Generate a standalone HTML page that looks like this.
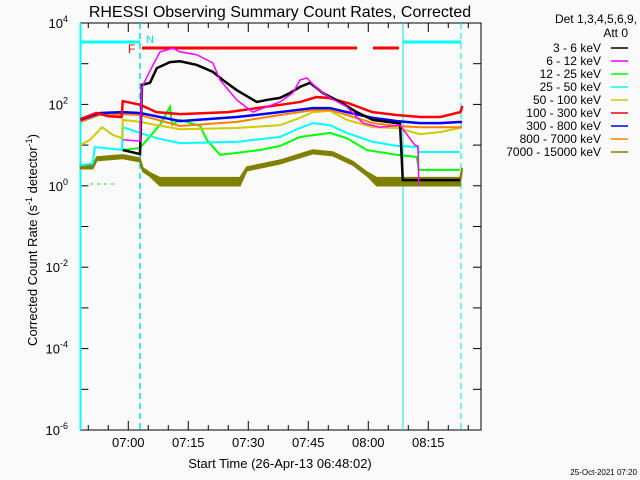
<!DOCTYPE html>
<html><head><meta charset="utf-8">
<style>
body{margin:0;background:#fafafa;}
svg{display:block;font-family:"Liberation Sans","DejaVu Sans",sans-serif;}
</style></head>
<body>
<svg id="chart" width="640" height="480" viewBox="0 0 640 480">
<rect width="640" height="480" fill="#fafafa"/>
<text x="280" y="17" font-size="16" text-anchor="middle" fill="#000">RHESSI Observing Summary Count Rates, Corrected</text>
<text x="280" y="468" font-size="13" text-anchor="middle" fill="#000">Start Time (26-Apr-13 06:48:02)</text>
<text transform="translate(37,240) rotate(-90)" font-size="13" text-anchor="middle" fill="#000">Corrected Count Rate (s<tspan baseline-shift="super" font-size="9">-1</tspan> detector<tspan baseline-shift="super" font-size="9">-1</tspan>)</text>
<text x="637" y="475" font-size="8" text-anchor="end" fill="#000">25-Oct-2021 07:20</text>
<g id="axes"></g>
<g id="marks"></g>
<g id="legend"></g>
</svg>
<script>
// time in minutes after 06:48:02, values are log10(count rate)
const redT = [0,4,7,10.3,10.6,15,19,25,37,50,55,59,62,67,73,79,85,90,95,95.5];
const redV = [1.64,1.79,1.71,1.69,2.08,1.99,1.81,1.76,1.81,1.99,2.06,2.18,2.16,2.03,1.81,1.74,1.69,1.69,1.81,1.96];
const blueT = [0,4.9,10.6,14.9,24.9,39.1,49.9,58.1,62.4,66.6,73.1,79.1,84.9,89.9,95.4];
const blueV = [1.62,1.79,1.81,1.79,1.59,1.69,1.81,1.91,1.91,1.81,1.67,1.59,1.54,1.54,1.57];
const orangeT = [0,4.9,10.6,14.9,24.9,39.1,49.9,58.1,62.4,66.6,73.1,79.1,84.9,89.9,95.4];
const orangeV = [1.57,1.74,1.76,1.74,1.47,1.57,1.74,1.86,1.86,1.74,1.54,1.47,1.44,1.44,1.44];
const yellowT = [0,2.4,5.4,8.1,10.4,10.6,14.9,19.1,24.9,39.1,49.9,54.9,58.1,62.4,66.6,73.1,79.1,84.9,89.9,94.9];
const yellowV = [1.0,1.13,1.44,1.25,1.17,1.62,1.57,1.49,1.39,1.42,1.49,1.67,1.81,1.84,1.62,1.44,1.42,1.27,1.32,1.42];
const cyanT = [0,3.1,3.6,8.6,10.4,10.6,14.9,19.1,24.9,39.1,49.9,54.9,58.1,62.4,66.6,73.1,79.1,84.4,84.6,94.9];
const cyanV = [0.5,0.55,0.95,0.9,0.88,1.44,1.30,1.17,1.05,1.08,1.20,1.42,1.54,1.49,1.30,1.08,0.98,0.95,0.83,0.83];
const greenT = [10.6,14.9,19.9,22.4,22.9,24.9,29.9,31.6,34.9,39.1,44.9,49.9,54.9,62.4,66.6,71.6,79.1,84.1,84.6,94.9];
const greenV = [0.88,0.93,1.5,1.94,1.5,1.62,1.47,1.13,0.76,0.81,0.88,0.98,1.2,1.30,1.17,0.88,0.76,0.71,0.39,0.39];
const magentaT = [10.6,14.9,15.4,17.9,19.9,23.1,24.9,29.1,33.1,34.9,39.1,43.1,46.6,49.9,53.1,54.9,56.6,59.1,62.4,66.6,70.6,74.9,79.9,83.6,84.4,84.6];
const magentaV = [1.13,1.10,2.43,2.92,3.29,3.38,3.29,3.22,3.02,2.60,2.11,1.81,1.94,2.06,2.28,2.6,2.65,2.40,2.16,1.94,1.54,1.44,1.49,1.0,0.98,0.0];
const blackT = [10.6,14.9,15.4,17.4,19.1,22.4,24.9,29.1,33.1,35.6,39.1,44.1,46.6,49.9,52.4,54.9,57.4,60.6,64.9,69.1,73.1,79.1,79.9,80.6,94.9];
const blackV = [0.88,0.78,2.48,2.53,2.89,3.04,3.06,2.97,2.80,2.60,2.35,2.06,2.11,2.16,2.28,2.43,2.53,2.28,2.06,1.81,1.62,1.54,1.54,0.14,0.14];
const oliveT = [0,3.1,4.1,10.6,14.9,15.6,17.4,19.9,39.9,41.6,49.9,58.1,63.1,68.1,71.6,74.1,94.9,95.4];
const oliveHi = [0.51,0.51,0.71,0.76,0.68,0.44,0.32,0.2,0.2,0.46,0.63,0.88,0.83,0.6,0.34,0.2,0.2,0.44];
const oliveLo = [0.42,0.42,0.62,0.67,0.59,0.35,0.23,0.0,0.0,0.37,0.54,0.79,0.74,0.51,0.25,0.0,0.0,0.35];
const yTickExps = [-6,-5,-4,-3,-2,-1,0,1,2,3,4];
const yLabelExps = [-6,-4,-2,0,2,4];
const xMajorMin = [11.97,26.97,41.97,56.97,71.97,86.97];
const xMajorLabels = ["07:00","07:15","07:30","07:45","08:00","08:15"];
const legendLabels = ["3 - 6 keV","6 - 12 keV","12 - 25 keV","25 - 50 keV","50 - 100 keV","100 - 300 keV","300 - 800 keV","800 - 7000 keV","7000 - 15000 keV"];
const legendColors = ["#000000","#ff00ff","#00ff00","#00ffff","#cccc00","#ff0000","#0000ff","#ff8000","#808000"];

const NS="http://www.w3.org/2000/svg";
const L=80.4,R=481,T=23,B=430;
function X(t){return L+4*t;}
function Y(v){return T+(4-v)*(B-T)/10;}
function mk(tag,attrs,parent){const e=document.createElementNS(NS,tag);for(const k in attrs)e.setAttribute(k,attrs[k]);parent.appendChild(e);return e;}
const axes=document.getElementById('axes'),marks=document.getElementById('marks'),legend=document.getElementById('legend');

// ticks
yTickExps.forEach(e=>{const y=Y(e);
 const t1=mk('line',{x1:L,x2:L+8,y1:y,y2:y,stroke:'#000'},axes);
 
 
 const t2=mk('line',{x1:R-8,x2:R,y1:y,y2:y,stroke:'#000'},axes);
 
 
});
yLabelExps.forEach(e=>{const tx=mk('text',{x:68,y:Y(e)+5,'font-size':13,'text-anchor':'end'},axes);
 tx.textContent='10';const s=mk('tspan',{dy:-6,'font-size':9},tx);s.textContent=String(e);
 
 
});
for(let m=2;m<=100;m+=5){const x=X(m-0.03);const major=xMajorMin.some(v=>Math.abs(v-(m-0.03))<0.1);const len=major?9:5;
 const a=mk('line',{x1:x,x2:x,y1:B,y2:B-len,stroke:'#000'},axes);
 
 
 const b=mk('line',{x1:x,x2:x,y1:T,y2:T+len,stroke:'#000'},axes);
 
 
}
xMajorMin.forEach((m,i)=>{const tx=mk('text',{x:X(m),y:447,'font-size':13,'text-anchor':'middle'},axes);tx.textContent=xMajorLabels[i];
 
 
});
const frame=mk('rect',{x:L,y:T,width:R-L,height:B-T,fill:'none',stroke:'#000'},axes);



// flags
function ln(attrs,name){const e=mk('line',attrs,marks);return e;}
ln({x1:80.5,x2:80.5,y1:T,y2:B,stroke:'#00ffff','stroke-width':2},'saa-left-line');
ln({x1:140,x2:140,y1:T,y2:B,stroke:'#00e0e0','stroke-width':1.5,'stroke-dasharray':'6,4'},'night-start-line');
ln({x1:403,x2:403,y1:T,y2:B,stroke:'#00e8e8','stroke-width':1},'night-end-line');
ln({x1:461,x2:461,y1:T,y2:B,stroke:'#00e0e0','stroke-width':1,'stroke-dasharray':'6,4'},'saa-right-line');
ln({x1:81,x2:140,y1:42,y2:42,stroke:'#00ffff','stroke-width':3},'night-bar-left');
ln({x1:403,x2:461,y1:42,y2:42,stroke:'#00ffff','stroke-width':3},'night-bar-right');
ln({x1:142,x2:357,y1:48,y2:48,stroke:'#ff0000','stroke-width':3},'flare-bar-1');
ln({x1:373,x2:399,y1:48,y2:48,stroke:'#ff0000','stroke-width':3},'flare-bar-2');
const fl=mk('text',{x:128,y:53,'font-size':12,fill:'#ff0000'},marks);fl.textContent='F';


const nl=mk('text',{x:146,y:43,'font-size':11,fill:'#00dddd'},marks);nl.textContent='N';


const gd=mk('line',{x1:90,x2:115,y1:184,y2:184,stroke:'#00ff00','stroke-width':1,'stroke-dasharray':'3,4'},marks);



// olive band
let pts=oliveT.map((t,i)=>X(t)+','+Y(oliveHi[i]));
pts=pts.concat(oliveT.slice().reverse().map((t,j)=>{const i=oliveT.length-1-j;return X(t)+','+Y(oliveLo[i]);}));
const ob=mk('polygon',{points:pts.join(' '),fill:'#808000',stroke:'#808000','stroke-width':1.5},marks);



function series(T_,V_,color,name,w){const p=mk('polyline',{points:T_.map((t,i)=>X(t)+','+Y(V_[i])).join(' '),fill:'none',stroke:color,'stroke-width':w},marks);
 
 
}
series(greenT,greenV,'#00ff00','series-12-25kev',2);
series(cyanT,cyanV,'#00ffff','series-25-50kev',2);
series(yellowT,yellowV,'#cccc00','series-50-100kev',2);
series(orangeT,orangeV,'#ff8000','series-800-7000kev',2);
series(blueT,blueV,'#0000ff','series-300-800kev',2.5);
series(redT,redV,'#ff0000','series-100-300kev',2.5);
series(blackT,blackV,'#000000','series-3-6kev',2.5);
series(magentaT,magentaV,'#ff00ff','series-6-12kev',1.5);

// legend
const lt1=mk('text',{x:637,y:23,'font-size':12,'text-anchor':'end'},legend);lt1.textContent='Det 1,3,4,5,6,9,';


const lt2=mk('text',{x:628,y:37,'font-size':12,'text-anchor':'end'},legend);lt2.textContent='Att 0';


legendLabels.forEach((lab,i)=>{const y=52+i*13;
 const tx=mk('text',{x:601,y:y,'font-size':12,'text-anchor':'end'},legend);tx.textContent=lab;
 
 
 const l=mk('line',{x1:611,x2:628,y1:y-4,y2:y-4,stroke:legendColors[i],'stroke-width':1.5},legend);
 
 
});
</script>
</body></html>
